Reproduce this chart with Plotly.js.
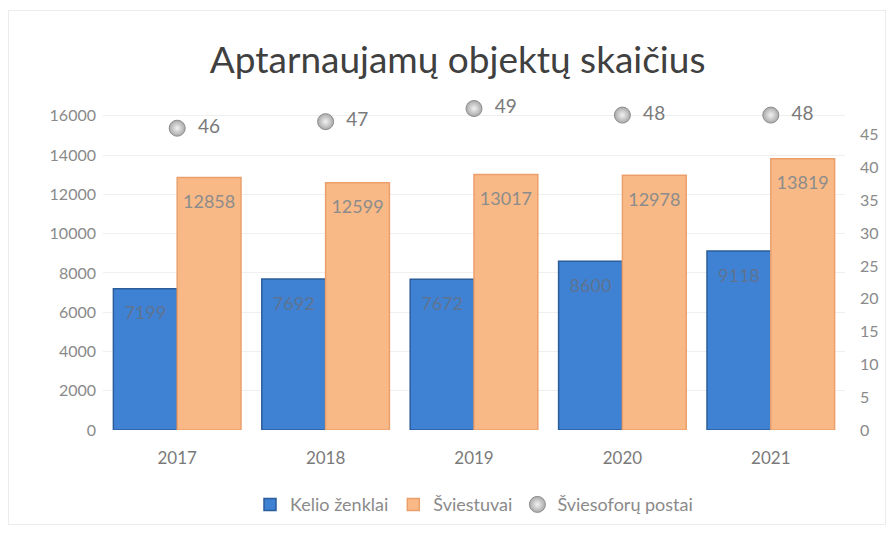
<!DOCTYPE html>
<html><head><meta charset="utf-8">
<script src="https://cdn.plot.ly/plotly-3.0.1.min.js"></script>
<style>
html,body{margin:0;padding:0;background:#fff;}
#wrap{position:absolute;left:0;top:0;width:892px;height:535px;}
#frame{position:absolute;left:8px;top:10px;width:878px;height:515px;border:1px solid #ececec;box-sizing:border-box;pointer-events:none;}
#chart{width:892px;height:535px;}
</style></head>
<body>
<div id="wrap"><div id="chart"></div><div id="frame"></div></div>
<script>
const years = ['2017','2018','2019','2020','2021'];
const keliozenklai = [7199, 7692, 7672, 8600, 9118];
const sviestuvai = [12858, 12599, 13017, 12978, 13819];
const sviesoforuPostai = [46, 47, 49, 48, 48];
const leftTicks = [0,2000,4000,6000,8000,10000,12000,14000,16000];
const rightTicks = [0,5,10,15,20,25,30,35,40,45];

const fontFam = 'Lato, "Open Sans", sans-serif';
// spacer line above each label pushes it a bit lower inside the bar top
const lbl = v => '<span style="font-size:12px"> </span><br><span style="font-size:18px">' + v + '</span>';

const traces = [
  {
    type:'bar', name:'Kelio ženklai', x:years, y:keliozenklai,
    text:keliozenklai.map(lbl), textposition:'inside', insidetextanchor:'end',
    textfont:{family:fontFam, size:12, color:'#5e7391'},
    marker:{color:'#3f82d4', line:{color:'#2b5d9b', width:1.5}}
  },
  {
    type:'bar', name:'Šviestuvai', x:years, y:sviestuvai,
    text:sviestuvai.map(lbl), textposition:'inside', insidetextanchor:'end',
    textfont:{family:fontFam, size:12, color:'#8c8c8c'},
    marker:{color:'#f8b987', line:{color:'#eba06c', width:1.5}}
  },
  {
    type:'scatter', mode:'markers+text', name:'Šviesoforų postai', x:years, y:sviesoforuPostai,
    yaxis:'y2', text:sviesoforuPostai.map(v=>'  '+v), textposition:'middle right',
    textfont:{family:fontFam, size:19, color:'#7a7a7a'},
    marker:{size:16, color:'#a9a9a9', line:{color:'#8c8c8c', width:1},
      gradient:{type:'radial', color:'#f2f2f2'}},
    cliponaxis:false
  }
];

const layout = {
  width:892, height:535,
  paper_bgcolor:'rgba(0,0,0,0)', plot_bgcolor:'rgba(0,0,0,0)',
  margin:{l:103, r:47, t:95, b:103},
  title:{text:'Aptarnaujamų objektų skaičius', x:0.513, xanchor:'center', y:0.888, yanchor:'middle',
    font:{family:fontFam, size:37, color:'#404040'}},
  barmode:'group', bargap:0.14, bargroupgap:0,
  showlegend:true,
  legend:{orientation:'h', x:0.5, xanchor:'center', y:-0.223, yanchor:'middle',
    font:{family:fontFam, size:18, color:'#8a8a8a'}, itemwidth:30, traceorder:'normal'},
  xaxis:{type:'category', tickvals:years, ticktext:years, showline:false, showgrid:false, ticks:'',
    tickfont:{family:fontFam, size:17, color:'#7a7a7a'}, ticklabelstandoff:16},
  yaxis:{range:[0,17063], tickvals:leftTicks, ticktext:leftTicks.map(String), showline:false,
    gridcolor:'#efefef', zeroline:false, ticks:'',
    tickfont:{family:fontFam, size:16, color:'#8a8a8a'}, ticklabelstandoff:6},
  yaxis2:{overlaying:'y', side:'right', range:[0,51.06], tickvals:rightTicks, ticktext:rightTicks.map(String),
    showgrid:false, zeroline:false, showline:false, ticks:'',
    tickfont:{family:fontFam, size:16, color:'#8a8a8a'}, ticklabelstandoff:14}
};

Plotly.newPlot('chart', traces, layout, {displayModeBar:false, staticPlot:true});
</script>
</body></html>
